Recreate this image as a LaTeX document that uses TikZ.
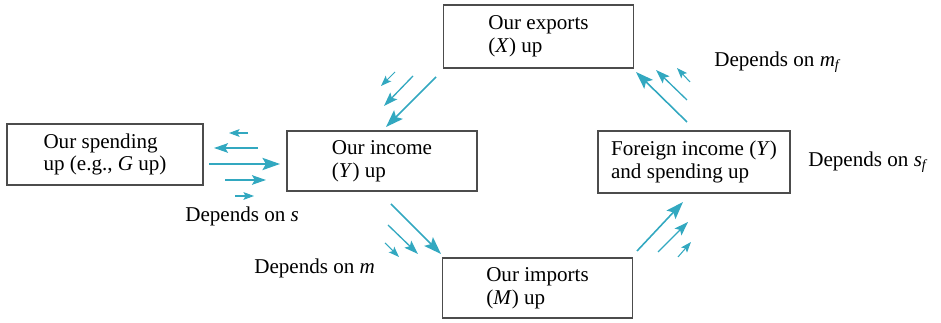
\documentclass[tikz,border=0pt]{standalone}
\usepackage{fontspec}
\setmainfont{Liberation Serif}
\usetikzlibrary{arrows.meta}
\definecolor{flowcyan}{RGB}{50,168,192}
\newcommand{\lowsub}[1]{\raisebox{-0.35ex}{\footnotesize\textit{#1}}}
\tikzset{
  ecobox/.style={draw=black!70, line width=0.6pt, minimum width=3.8cm, minimum height=1.22cm, align=left, font=\fontsize{12}{13}\selectfont},
  deplabel/.style={anchor=west, inner sep=0pt, font=\fontsize{12}{13}\selectfont},
  bigflow/.style={flowcyan, line width=0.9pt, -{Stealth[length=10pt, width=7pt, inset=2pt]}},
  midflow/.style={flowcyan, line width=0.75pt, -{Stealth[length=8pt, width=5.5pt, inset=1.6pt]}},
  smallflow/.style={flowcyan, line width=0.6pt, -{Stealth[length=6pt, width=4.4pt, inset=1.2pt]}}
}

\begin{document}
\begin{tikzpicture}[x=0.02cm, y=-0.02cm]
  \useasboundingbox (0,0) rectangle (941,323);
  % boxes
  \node[ecobox, minimum width=3.92cm] (spend) at (105,154.5) {Our spending\\up (e.g., \textit{G} up)};
  \node[ecobox, minimum height=1.2cm] (income) at (382,161) {Our income\\(\textit{Y}) up};
  \node[ecobox, minimum height=1.26cm] (exports) at (538.5,36.5) {Our exports\\(\textit{X}) up};
  \node[ecobox, minimum width=3.84cm, minimum height=1.24cm] (foreign) at (694,162) {Foreign income (\textit{Y})\\and spending up};
  \node[ecobox, minimum height=1.2cm] (imports) at (537.5,288) {Our imports\\(\textit{M}) up};

  % labels
  \node[deplabel] (dms) at (185,216) {Depends on \textit{s}};
  \node[deplabel] (dmm) at (254,268) {Depends on \textit{m}};
  \node[deplabel] (dmf) at (714,62) {Depends on \textit{m}\lowsub{f}};
  \node[deplabel] (dsf) at (808,162) {Depends on \textit{s}\lowsub{f}};

  % spending -> income
  \draw[smallflow] (248,133) -- (229,133);
  \draw[midflow] (258,148) -- (214,148);
  \draw[bigflow] (209,164) -- (280,164);
  \draw[midflow] (225,180) -- (266,180);
  \draw[smallflow] (235,196) -- (254,196);

  % exports -> income
  \draw[smallflow] (395,72) -- (381,86);
  \draw[midflow] (413,76) -- (384,106);
  \draw[bigflow] (436,77) -- (386,127);

  % income -> imports
  \draw[bigflow] (391,204) -- (441,254);
  \draw[midflow] (388,225) -- (418,254);
  \draw[smallflow] (385,243) -- (399,257);

  % imports -> foreign
  \draw[bigflow] (637,251) -- (683,202);
  \draw[midflow] (658,252) -- (688,222);
  \draw[smallflow] (678,257) -- (691,242);

  % foreign -> exports
  \draw[bigflow] (687,122) -- (636,72);
  \draw[midflow] (687,100) -- (656,70);
  \draw[smallflow] (690,82) -- (677,68);
\end{tikzpicture}
\end{document}
